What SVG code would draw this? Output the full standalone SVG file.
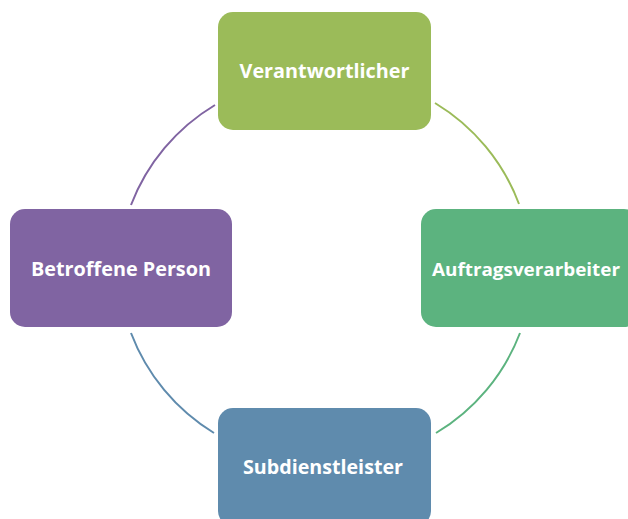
<svg xmlns="http://www.w3.org/2000/svg" width="628" height="519" viewBox="0 0 628 519">
<style>
.lbl{font-family:"Open Sans","Liberation Sans",sans-serif;font-weight:bold;font-size:20px;fill:#ffffff;text-anchor:middle}
.arc{fill:none;stroke-width:2}
</style>
<rect width="628" height="519" fill="#ffffff"/>
<g id="connectors">
<path class="arc" stroke="#9bbb59" d="M435,103 A200,200 0 0 1 519,204"/>
<path class="arc" stroke="#5cb37f" d="M520,333 A200,200 0 0 1 436,433"/>
<path class="arc" stroke="#5f8bad" d="M214,433 A200,200 0 0 1 131,333"/>
<path class="arc" stroke="#8064a2" d="M131,205 A200,200 0 0 1 215,105"/>
</g>
<g id="verantwortlicher">
<rect x="218" y="12" width="213" height="118" rx="15" fill="#9bbb59"/>
<text class="lbl" x="324.5" y="78" textLength="170" lengthAdjust="spacingAndGlyphs">Verantwortlicher</text>
</g>
<g id="auftragsverarbeiter">
<rect x="421" y="209" width="218" height="118" rx="15" fill="#5cb37f"/>
<text class="lbl" x="526" y="276" style="font-size:18.5px" textLength="188" lengthAdjust="spacingAndGlyphs">Auftragsverarbeiter</text>
</g>
<g id="betroffene">
<rect x="10" y="209" width="222" height="118" rx="15" fill="#8064a2"/>
<text class="lbl" x="121" y="276" textLength="180" lengthAdjust="spacingAndGlyphs">Betroffene Person</text>
</g>
<g id="subdienstleister">
<rect x="218" y="408" width="213" height="118" rx="15" fill="#5f8bad"/>
<text class="lbl" x="323" y="474" textLength="160" lengthAdjust="spacingAndGlyphs">Subdienstleister</text>
</g>
</svg>
